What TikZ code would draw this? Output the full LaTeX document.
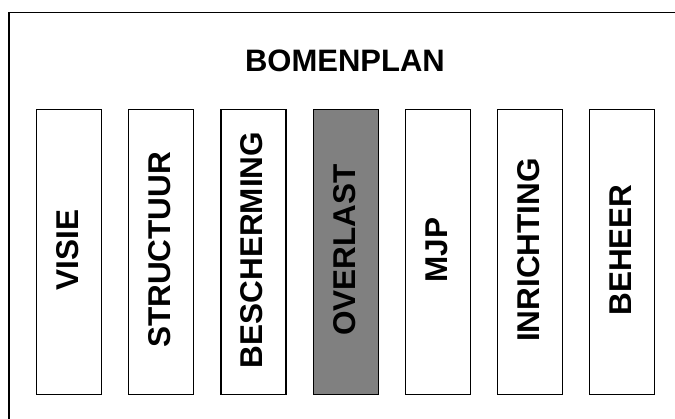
\documentclass[tikz,border=0pt]{standalone}
\usepackage{fontspec}
\setmainfont{Liberation Sans}
\begin{document}
\begin{tikzpicture}[x=1pt,y=1pt,
  col/.style={draw=black, line width=1.2pt, minimum width=65pt, minimum height=285pt, inner sep=0pt, anchor=north west},
  lbl/.style={font=\fontsize{31.5}{37}\selectfont\bfseries, rotate=90, inner sep=0pt},
  ttl/.style={font=\fontsize{31}{37}\selectfont\bfseries, inner sep=0pt}]
\useasboundingbox (0,0) rectangle (675,418);
\clip (0,0) rectangle (675,418);
\draw[line width=1.3pt] (9,405.5) -- (680,405.5);
\draw[line width=1.3pt] (9,405.5) -- (9,-5);
\node[ttl] (title) at (345,357) {BOMENPLAN};
\node[col] (b1) at (36,309) {};
\node[col] (b2) at (128.2,309) {};
\node[col] (b3) at (220.4,309) {};
\node[col, fill={rgb,255:red,128;green,128;blue,128}] (b4) at (312.6,309) {};
\node[col] (b5) at (404.8,309) {};
\node[col] (b6) at (497,309) {};
\node[col] (b7) at (589.2,309) {};
\node[lbl] (t1) at ([xshift=-1.5pt]b1.center |- 0,168) {VISIE};
\node[lbl] (t2) at ([xshift=-1.5pt]b2.center |- 0,168) {STRUCTUUR};
\node[lbl] (t3) at ([xshift=-1.5pt]b3.center |- 0,168) {BESCHERMING};
\node[lbl] (t4) at ([xshift=-1.5pt]b4.center |- 0,168) {OVERLAST};
\node[lbl] (t5) at ([xshift=-1.5pt]b5.center |- 0,168) {MJP};
\node[lbl] (t6) at ([xshift=-1.5pt]b6.center |- 0,168) {INRICHTING};
\node[lbl] (t7) at ([xshift=-1.5pt]b7.center |- 0,168) {BEHEER};
\end{tikzpicture}
\end{document}
